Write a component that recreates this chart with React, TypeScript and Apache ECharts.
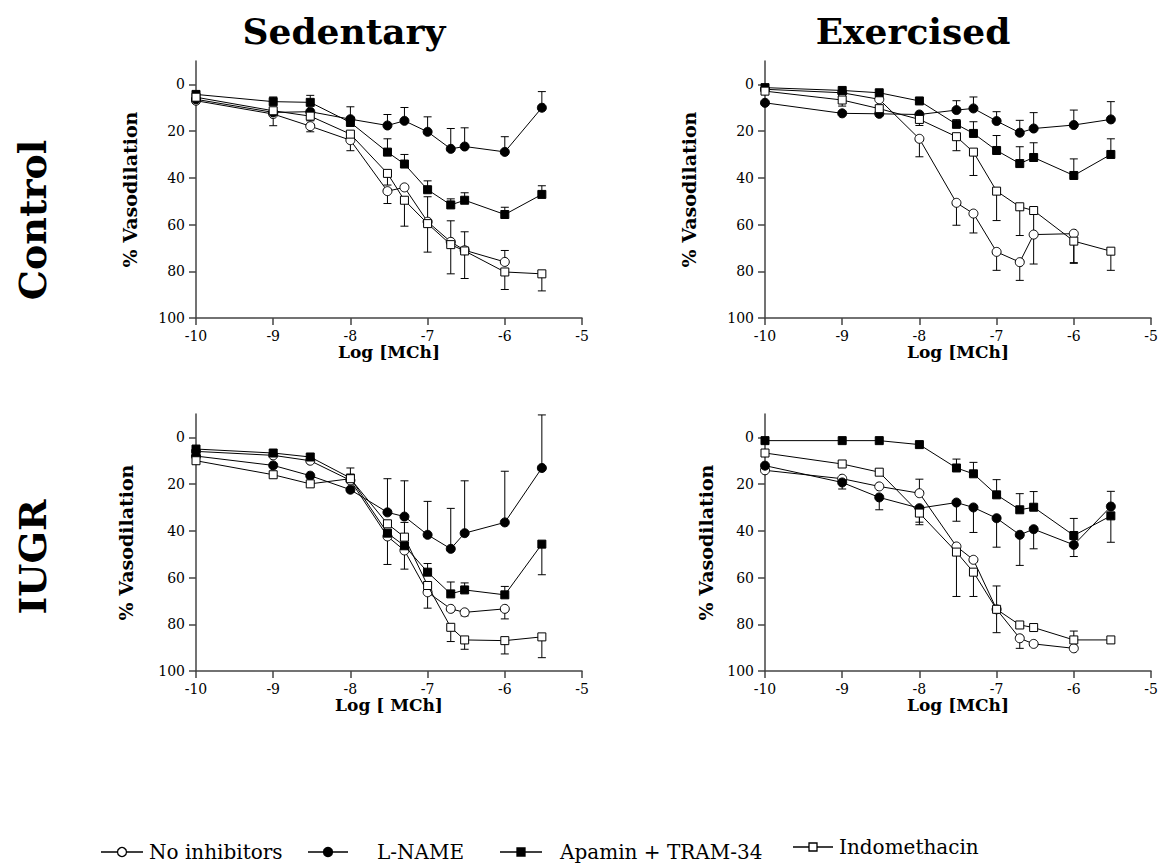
import React, { useEffect, useRef } from 'react';
import * as echarts from 'echarts';

// Log [MCh] doses
const doses = [-10, -9, -8.52, -8, -7.52, -7.3, -7, -6.7, -6.52, -6, -5.52];
const yTicks = [0, 20, 40, 60, 80, 100];
const seriesNames = ['No inhibitors', 'L-NAME', 'Apamin + TRAM-34', 'Indomethacin'];
const columnTitles = ['Sedentary', 'Exercised'];
const rowTitles = ['Control', 'IUGR'];

// Sedentary - Control (% vasodilation, signed error bar length)
const scNone = [7, 12.7, 17.9, 23.9, 45.7, 44.1, 58.8, 67.4, 71, 76, null];
const scNoneErr = [0, 5, 2.4, 4.5, 5.3, 0, -10.7, -9, -7.9, -4.9, 0];
const scLname = [6.4, 12, 11.7, 14.9, 17.6, 15.6, 20.3, 27.6, 26.6, 28.9, 10];
const scLnameErr = [0, 0, 0, -5.3, -4.7, -5.7, -6.4, -8.7, -8, -6.5, -6.9];
const scApamin = [4.3, 7.4, 7.7, 16.3, 29, 34.1, 45.1, 51.6, 49.6, 55.7, 47.1];
const scApaminErr = [0, -2, -3, -2, -5.7, -4.1, -3.8, -2.6, -3.2, -3.1, -3.7];
const scIndo = [5.5, 11.3, 13.6, 21.3, 38.1, 49.6, 59.6, 68.6, 71.3, 80.3, 81.1];
const scIndoErr = [0, 0, 2, 3, 5, 11.1, 12.2, 12.5, 11.8, 7.5, 7.3];

// Exercised - Control
const ecNone = [2.1, 3.6, 6.4, 23.3, 50.7, 55.3, 71.7, 76.1, 64.3, 63.9, null];
const ecNoneErr = [0, 0, 0, 7.7, 9.6, 8.3, 7.9, 7.8, 12.6, 12.4, 0];
const ecLname = [7.9, 12.4, 12.6, 12.9, 11, 10.3, 15.7, 20.7, 18.9, 17.4, 15];
const ecLnameErr = [0, 0, 0, 0, -4, -4.9, -4, -5.3, -6.8, -6.4, -7.6];
const ecApamin = [1.4, 2.6, 3.6, 7.1, 17.1, 21, 28.3, 33.9, 31.3, 39, 30];
const ecApaminErr = [0, 0, 0, 0, -2, -5, -6.4, -7.2, -6.3, -7.1, -6.7];
const ecIndo = [2.9, 6.7, 10.4, 15, 22.4, 29, 45.7, 52.4, 54, 67.1, 71.4];
const ecIndoErr = [0, 2.6, 0, 2.6, 6, 10, 12.6, 12.3, 10.3, 9.5, 8.2];

// Sedentary - IUGR
const siNone = [6, 7.7, 10, 18.4, 42.4, 48.4, 66.3, 73.4, 74.9, 73.4, null];
const siNoneErr = [0, 0, 0, 0, 12, 8, 6.8, 0, 1.5, 4.3, 0];
const siLname = [8, 12, 16.4, 22.4, 32.1, 33.9, 41.7, 47.7, 41, 36.4, 13.1];
const siLnameErr = [0, 0, 0, 0, -14.4, -15.3, -14.3, -17.3, -22.4, -21.9, -22.7];
const siApamin = [5, 6.7, 8.4, 17.4, 41, 46.4, 57.7, 67, 65.3, 67.4, 45.7];
const siApaminErr = [0, 0, 0, 0, 0, 0, -3.7, -5.1, -3, -3.6, 13.1];
const siIndo = [10, 16, 19.9, 17.7, 37, 42.7, 63.4, 81.3, 86.7, 87, 85.4];
const siIndoErr = [0, 0, 0, -4.6, 0, -6.3, 0, 6.1, 4, 5.7, 8.9];

// Exercised - IUGR
const eiNone = [14.1, 17.7, 21, 23.9, 46.7, 52.4, 73.6, 86, 88.4, 90.3, null];
const eiNoneErr = [0, 0, 0, -6, 0, 0, -10, 4.3, 0, 0, 0];
const eiLname = [12.1, 19.3, 25.7, 30.3, 27.9, 30, 34.6, 41.7, 39.3, 46, 29.6];
const eiLnameErr = [0, 2.8, 5.3, 6, 8, 10.7, 12.4, 13.1, 8.4, 5, -6.5];
const eiApamin = [1.4, 1.4, 1.4, 3.1, 13.1, 15.6, 24.6, 31, 29.9, 42, 33.6];
const eiApaminErr = [0, 0, 0, 0, -3.8, -4.9, -6.5, -6.9, -6.7, -7.3, 11.3];
const eiIndo = [6.7, 11.4, 14.9, 32.4, 49.1, 57.7, 73.6, 80.3, 81.4, 86.7, 86.7];
const eiIndoErr = [0, 0, 0, 5, 19, 10.4, 10, 0, 0, -3.8, 1.5];

const SERIF = 'DejaVu Serif';
const LEG_FONT = 'DejaVu Serif';

const symbolStyles = [
  { symbol: 'circle', size: 9, fill: '#fff' },
  { symbol: 'circle', size: 9, fill: '#000' },
  { symbol: 'rect', size: 8, fill: '#000' },
  { symbol: 'rect', size: 8, fill: '#fff' },
];

const panels = [
  {
    values: [scNone, scLname, scApamin, scIndo],
    errs: [scNoneErr, scLnameErr, scApaminErr, scIndoErr],
    grid: { left: 196, right: 580, top: 61, bottom: 549 },
    yNameGap: 57,
    xName: 'Log [MCh]',
    xNameGap: 25,
  },
  {
    values: [ecNone, ecLname, ecApamin, ecIndo],
    errs: [ecNoneErr, ecLnameErr, ecApaminErr, ecIndoErr],
    grid: { left: 765, right: 11, top: 61, bottom: 549 },
    yNameGap: 67,
    xName: 'Log [MCh]',
    xNameGap: 25,
  },
  {
    values: [siNone, siLname, siApamin, siIndo],
    errs: [siNoneErr, siLnameErr, siApaminErr, siIndoErr],
    grid: { left: 196, right: 580, top: 414, bottom: 196 },
    yNameGap: 61,
    xName: 'Log [ MCh]',
    xNameGap: 23,
  },
  {
    values: [eiNone, eiLname, eiApamin, eiIndo],
    errs: [eiNoneErr, eiLnameErr, eiApaminErr, eiIndoErr],
    grid: { left: 765, right: 11, top: 414, bottom: 196 },
    yNameGap: 50,
    xName: 'Log [MCh]',
    xNameGap: 23,
  },
];

const axisColor = '#444';

// legend layout (icon left edge, icon width, text gap, centre line)
const legendLayout = [
  { left: 101, width: 42, gap: 6, y: 852 },
  { left: 308, width: 40, gap: 29, y: 852 },
  { left: 500, width: 42, gap: 18, y: 852 },
  { left: 793, width: 40, gap: 6, y: 847 },
];

function buildOption() {
  const grid: any[] = [];
  const xAxis: any[] = [];
  const yAxis: any[] = [];
  const series: any[] = [];

  panels.forEach((p, i) => {
    grid.push({ ...p.grid, containLabel: false });
    xAxis.push({
      type: 'value',
      gridIndex: i,
      min: -10,
      max: -5,
      interval: 1,
      name: p.xName,
      nameLocation: 'middle',
      nameGap: p.xNameGap,
      nameTextStyle: { fontFamily: SERIF, fontWeight: 'bold', fontSize: 17, color: '#000' },
      axisLine: { onZero: false, lineStyle: { color: axisColor, width: 1.5 } },
      axisTick: { length: 7, lineStyle: { color: axisColor, width: 1.5 } },
      axisLabel: { fontFamily: SERIF, fontSize: 14, color: '#000', margin: 11 },
      splitLine: { show: false },
    });
    yAxis.push({
      type: 'value',
      gridIndex: i,
      inverse: true,
      min: -10,
      max: 100,
      name: '% Vasodilation',
      nameLocation: 'middle',
      nameGap: p.yNameGap,
      nameTextStyle: { fontFamily: SERIF, fontWeight: 'bold', fontSize: 19, color: '#000' },
      axisLine: { show: true, onZero: false, lineStyle: { color: axisColor, width: 1.5 } },
      axisTick: { show: true, length: 7, customValues: yTicks, lineStyle: { color: axisColor, width: 1.5 } },
      axisLabel: { fontFamily: SERIF, fontSize: 14, color: '#000', margin: 11, customValues: yTicks },
      splitLine: { show: false },
    });

    p.values.forEach((vals, j) => {
      const st = symbolStyles[j];
      const data = doses
        .map((d, k) => (vals[k] == null ? null : [d, vals[k]]))
        .filter((v) => v != null);
      const errData = doses
        .map((d, k) => (vals[k] == null || !p.errs[j][k] ? null : [d, vals[k], p.errs[j][k]]))
        .filter((v) => v != null);
      series.push({
        type: 'custom',
        name: seriesNames[j] + ' err',
        xAxisIndex: i,
        yAxisIndex: i,
        z: 1,
        encode: { x: 0, y: 1 },
        data: errData,
        renderItem: (params: any, api: any) => {
          const x = api.value(0);
          const y = api.value(1);
          const e = api.value(2);
          const p0 = api.coord([x, y]);
          const p1 = api.coord([x, y + e]);
          return {
            type: 'group',
            children: [
              { type: 'line', shape: { x1: p0[0], y1: p0[1], x2: p1[0], y2: p1[1] }, style: { stroke: '#000', lineWidth: 1 } },
              { type: 'line', shape: { x1: p1[0] - 4, y1: p1[1], x2: p1[0] + 4, y2: p1[1] }, style: { stroke: '#000', lineWidth: 1 } },
            ],
          };
        },
      });
      series.push({
        type: 'line',
        name: seriesNames[j],
        xAxisIndex: i,
        yAxisIndex: i,
        z: 3 + j,
        data,
        symbol: st.symbol,
        symbolSize: st.size,
        showAllSymbol: true,
        lineStyle: { color: '#000', width: 1 },
        itemStyle: { color: st.fill, borderColor: '#000', borderWidth: 1 },
        emphasis: { disabled: true },
      });
    });
  });

  const graphic: any[] = [
    {
      type: 'text',
      x: 344,
      y: 31,
      style: { text: columnTitles[0], font: `bold 36px "${SERIF}"`, fill: '#000', textAlign: 'center', textVerticalAlign: 'middle' },
    },
    {
      type: 'text',
      x: 913,
      y: 31,
      style: { text: columnTitles[1], font: `bold 36px "${SERIF}"`, fill: '#000', textAlign: 'center', textVerticalAlign: 'middle' },
    },
    {
      type: 'text',
      x: 32,
      y: 220,
      rotation: Math.PI / 2,
      style: { text: rowTitles[0], font: `bold 38px "${SERIF}"`, fill: '#000', textAlign: 'center', textVerticalAlign: 'middle' },
    },
    {
      type: 'text',
      x: 32,
      y: 557,
      rotation: Math.PI / 2,
      style: { text: rowTitles[1], font: `bold 38px "${SERIF}"`, fill: '#000', textAlign: 'center', textVerticalAlign: 'middle' },
    },
  ];

  // legend drawn as graphic elements
  seriesNames.forEach((n, j) => {
    const L = legendLayout[j];
    const st = symbolStyles[j];
    const cx = L.left + L.width / 2;
    graphic.push({
      type: 'line',
      z: 10,
      shape: { x1: L.left, y1: L.y, x2: L.left + L.width, y2: L.y },
      style: { stroke: '#000', lineWidth: 1.5 },
    });
    if (st.symbol === 'circle') {
      graphic.push({
        type: 'circle',
        z: 11,
        shape: { cx, cy: L.y, r: st.size / 2 },
        style: { fill: st.fill, stroke: '#000', lineWidth: 1.3 },
      });
    } else {
      graphic.push({
        type: 'rect',
        z: 11,
        shape: { x: cx - st.size / 2, y: L.y - st.size / 2, width: st.size, height: st.size },
        style: { fill: st.fill, stroke: '#000', lineWidth: 1.3 },
      });
    }
    graphic.push({
      type: 'text',
      z: 12,
      x: L.left + L.width + L.gap,
      y: L.y,
      style: { text: n, font: `20px "${LEG_FONT}"`, fill: '#000', textAlign: 'left', textVerticalAlign: 'middle' },
    });
  });

  return {
    animation: false,
    backgroundColor: '#fff',
    grid,
    xAxis,
    yAxis,
    series,
    graphic,
  };
}

export default function App() {
  const ref = useRef<HTMLDivElement>(null);
  useEffect(() => {
    if (!ref.current) return;
    const chart = echarts.init(ref.current, undefined, { renderer: 'svg' });
    chart.setOption(buildOption() as any);
    return () => chart.dispose();
  }, []);
  return (
    <div
      ref={ref}
      style={{ position: 'fixed', left: 0, top: 0, width: 1162, height: 867, background: '#fff' }}
    />
  );
}
